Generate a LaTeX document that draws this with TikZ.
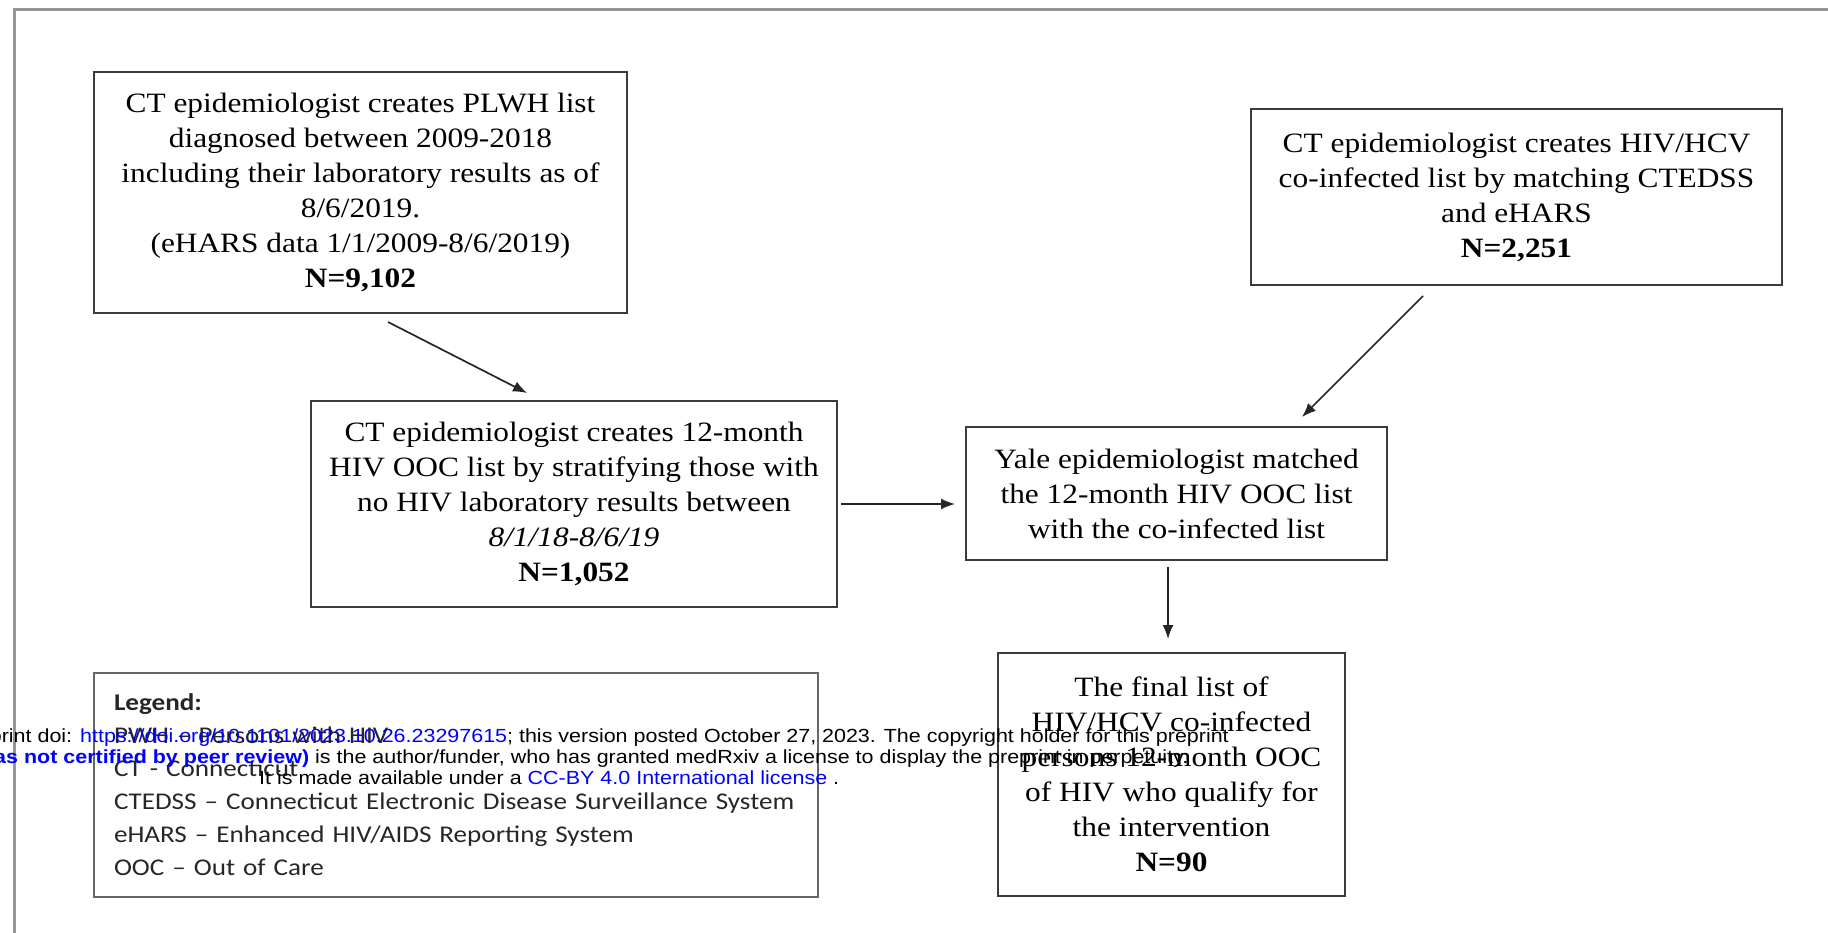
\documentclass[tikz,border=0pt]{standalone}
\usepackage{fontspec}
\setmainfont{Liberation Serif}[FakeStretch=1.12]
\newfontfamily\legfont{Carlito}[FakeStretch=1.13]
\newfontfamily\wmfont{Liberation Sans}[FakeStretch=1.13]
\usetikzlibrary{arrows.meta}
\definecolor{linkblue}{RGB}{0,0,255}
\definecolor{framegray}{RGB}{150,150,150}
\definecolor{boxline}{RGB}{60,60,60}
\begin{document}
\begin{tikzpicture}[x=1pt,y=-1pt,
  flowbox/.style={draw=boxline, line width=2.2pt, align=center, inner sep=0pt, font=\fontsize{28}{35}\selectfont, text=black},
  legbox/.style={draw=black!60, line width=2.5pt, align=left, inner xsep=20pt, inner ysep=0pt, text width=684pt, font=\legfont\fontsize{24}{33}\selectfont, text=black!85},
  arr/.style={-{Latex[length=14pt,width=11pt]}, line width=1.7pt, draw=black!85},
  wm/.style={inner sep=0pt, anchor=base west, font=\wmfont\fontsize{19}{21.7}\selectfont},
  frameline/.style={draw=framegray, line width=3pt}]
\useasboundingbox (0,0) rectangle (1828,933);
% frame
\coordinate (fr0) at (14,933);
\coordinate (fr1) at (14,10);
\coordinate (fr2) at (1828,10);
\draw[frameline] (fr0) -- (fr1) -- (fr2);
% boxes
\node[flowbox, minimum width=533pt, minimum height=241pt] (b1) at (360.5,192.5)
  {CT epidemiologist creates PLWH list\\ diagnosed between 2009-2018\\ including their laboratory results as of\\ 8/6/2019.\\ (eHARS data 1/1/2009-8/6/2019)\\ \textbf{N=9,102}};
\node[flowbox, minimum width=531pt, minimum height=176pt] (b2) at (1516.5,197)
  {CT epidemiologist creates HIV/HCV\\ co-infected list by matching CTEDSS\\ and eHARS\\ \textbf{N=2,251}};
\node[flowbox, minimum width=526pt, minimum height=206pt] (b3) at (574,504)
  {CT epidemiologist creates 12-month\\ HIV OOC list by stratifying those with\\ no HIV laboratory results between\\ \textit{8/1/18-8/6/19}\\ \textbf{N=1,052}};
\node[flowbox, minimum width=421pt, minimum height=133pt] (b4) at (1176.5,493.5)
  {Yale epidemiologist matched\\ the 12-month HIV OOC list\\ with the co-infected list};
\node[flowbox, minimum width=347pt, minimum height=243pt] (b5) at (1171.5,774.5)
  {The final list of\\ HIV/HCV co-infected\\ persons 12-month OOC\\ of HIV who qualify for\\ the intervention\\ \textbf{N=90}};
\node[legbox, minimum height=224pt] (leg) at (456,785)
  {\textbf{Legend:}\\ PWH – Persons with HIV\\ CT - Connecticut\\ CTEDSS – Connecticut Electronic Disease Surveillance System\\ eHARS – Enhanced HIV/AIDS Reporting System\\ OOC – Out of Care};
% arrows
\coordinate (a1s) at (388,322);
\coordinate (a1e) at (527,393);
\coordinate (a2s) at (1423,296);
\coordinate (a2e) at (1302,417);
\coordinate (a3s) at (841,504);
\coordinate (a3e) at (955,504);
\coordinate (a4s) at (1168,567);
\coordinate (a4e) at (1168,639);
\draw[arr] (a1s) -- (a1e);
\draw[arr] (a2s) -- (a2e);
\draw[arr] (a3s) -- (a3e);
\draw[arr] (a4s) -- (a4e);
% overlay text
\node[wm] (w1) at (80,742) {\llap{medRxiv preprint doi: }\textcolor{linkblue}{https://doi.org/10.1101/2023.10.26.23297615}; this version posted October 27, 2023. The copyright holder for this preprint};
\node[wm] (w2) at (309,763) {\llap{\textcolor{linkblue}{\bfseries (which was not certified by peer review)}} is the author/funder, who has granted medRxiv a license to display the preprint in perpetuity.};
\node[wm] (w3) at (259,784) {It is made available under a \textcolor{linkblue}{CC-BY 4.0 International license} .};
\end{tikzpicture}
\end{document}
